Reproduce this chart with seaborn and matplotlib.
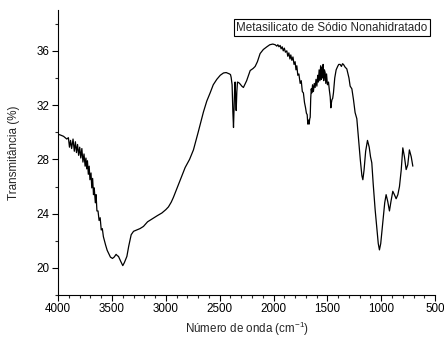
import matplotlib
matplotlib.use("Agg")
import matplotlib.pyplot as plt
import matplotlib.ticker as mticker
import numpy as np
import pandas as pd
import seaborn as sns

# FTIR spectrum of sodium metasilicate nonahydrate
wavenumber = [
    4000, 3980, 3950, 3920, 3905, 3895, 3885, 3875, 3862, 3850, 3840, 3830,
    3820, 3810, 3800, 3790, 3780, 3770, 3760, 3750, 3742, 3735, 3728, 3720,
    3712, 3705, 3695, 3688, 3680, 3672, 3665, 3655, 3648, 3640, 3630, 3620,
    3610, 3600, 3590, 3580, 3570, 3560, 3545, 3533, 3515, 3496, 3480, 3462,
    3450, 3440, 3420, 3400, 3385, 3362, 3345, 3322, 3300, 3270, 3240, 3208,
    3170, 3130, 3080, 3037, 3000, 2976, 2950, 2930, 2905, 2883, 2850, 2821,
    2780, 2744, 2700, 2651, 2620, 2589, 2560, 2527, 2495, 2465, 2440, 2410,
    2400, 2394, 2385, 2378, 2372, 2366, 2360, 2357, 2352, 2347, 2341, 2335,
    2322, 2310, 2295, 2280, 2250, 2217, 2190, 2171, 2150, 2125, 2095, 2062,
    2035, 2007, 1985, 1970, 1960, 1950, 1939, 1930, 1920, 1910, 1900, 1890,
    1877, 1868, 1858, 1848, 1840, 1830, 1820, 1810, 1800, 1792, 1784, 1775,
    1765, 1753, 1743, 1733, 1723, 1713, 1703, 1695, 1688, 1682, 1676, 1670,
    1664, 1660, 1655, 1650, 1645, 1638, 1630, 1622, 1614, 1606, 1598, 1590,
    1584, 1577, 1570, 1563, 1557, 1552, 1546, 1540, 1534, 1528, 1521, 1515,
    1508, 1500, 1490, 1482, 1474, 1468, 1465, 1458, 1451, 1444, 1432, 1419,
    1405, 1395, 1382, 1370, 1360, 1351, 1336, 1320, 1300, 1289, 1273, 1258,
    1243, 1227, 1212, 1195, 1180, 1171, 1160, 1145, 1128, 1112, 1100, 1088,
    1075, 1057, 1040, 1028, 1017, 1005, 993, 980, 968, 955, 940, 924,
    910, 893, 878, 862, 846, 831, 815, 800, 785, 769, 754, 739, 722, 707,
]
transmittance = [
    29.85, 29.8, 29.7, 29.5, 29.6, 28.9, 29.4, 28.8, 29.5, 28.6, 29.3, 28.5,
    29.1, 28.3, 28.9, 28.1, 28.8, 27.8, 28.4, 27.5, 28.1, 27.3, 27.9, 26.9,
    27.5, 26.5, 27.0, 25.9, 26.6, 25.4, 25.9, 24.8, 25.4, 24.2, 24.2, 23.5,
    23.7, 22.8, 22.9, 22.3, 22.0, 21.7, 21.3, 21.1, 20.8, 20.7, 20.8, 21.0,
    20.9, 20.85, 20.5, 20.17, 20.4, 20.85, 21.6, 22.45, 22.7, 22.8, 22.9, 23.06,
    23.4, 23.6, 23.85, 24.05, 24.3, 24.5, 24.85, 25.2, 25.7, 26.15, 26.8, 27.4,
    28.0, 28.7, 30.0, 31.5, 32.3, 32.9, 33.5, 33.9, 34.2, 34.37, 34.4, 34.3,
    34.25, 34.05, 33.5, 31.5, 30.35, 32.0, 33.6, 33.7, 32.5, 31.6, 33.0, 33.7,
    33.65, 33.55, 33.4, 33.3, 33.8, 34.55, 34.7, 34.85, 35.2, 35.8, 36.1, 36.3,
    36.45, 36.5, 36.45, 36.35, 36.45, 36.3, 36.4, 36.15, 36.3, 36.0, 36.2, 35.9,
    36.0, 35.6, 35.85, 35.4, 35.7, 35.3, 35.55, 35.0, 35.2, 34.6, 34.9, 34.2,
    34.3, 33.6, 33.8, 33.0, 32.9, 32.2, 31.8, 31.4, 31.3, 30.6, 30.9, 30.6,
    31.0, 31.1, 32.5, 33.2, 32.9, 33.5, 33.0, 33.6, 33.3, 33.9, 33.4, 34.2,
    33.7, 34.6, 33.8, 34.9, 33.9, 34.8, 34.0, 35.0, 33.8, 34.6, 34.4, 33.6,
    34.3, 33.5, 33.7, 33.1, 32.6, 31.8, 32.07, 32.4, 32.5, 32.9, 34.0, 34.6,
    34.85, 35.0, 35.0, 34.85, 35.05, 35.0, 34.8, 34.67, 34.0, 33.4, 33.2, 32.4,
    31.45, 31.0, 29.6, 28.0, 26.8, 26.5, 27.2, 28.6, 29.4, 28.9, 28.2, 27.75,
    26.2, 24.3, 22.8, 21.8, 21.33, 21.8, 22.8, 23.8, 24.8, 25.4, 24.9, 24.2,
    24.9, 25.65, 25.4, 25.1, 25.4, 26.0, 27.2, 28.85, 28.2, 27.25, 27.6, 28.7,
    28.2, 27.5,
]

spectrum = pd.DataFrame({"wavenumber": wavenumber, "transmittance": transmittance})

sns.set_style("ticks")
plt.rcParams["font.family"] = ["Liberation Sans", "DejaVu Sans"]
plt.rcParams["mathtext.default"] = "regular"

fig, ax = plt.subplots(figsize=(4.44, 3.38), dpi=100)
fig.subplots_adjust(left=0.131, right=0.98, bottom=0.127, top=0.97)

sns.lineplot(data=spectrum, x="wavenumber", y="transmittance", sort=False,
             estimator=None, color="black", linewidth=0.9, ax=ax)

ax.set_xlim(4000, 500)
ax.set_ylim(18, 39)
ax.xaxis.set_major_locator(mticker.MultipleLocator(500))
ax.xaxis.set_minor_locator(mticker.MultipleLocator(100))
ax.yaxis.set_major_locator(mticker.MultipleLocator(4))
ax.yaxis.set_minor_locator(mticker.MultipleLocator(2))
ax.tick_params(which="major", direction="out", length=4, width=0.8,
               labelsize=8.4, colors="black", pad=2)
ax.tick_params(which="minor", direction="out", length=2.5, width=0.8)

for side in ("top", "right"):
    ax.spines[side].set_visible(False)
for side in ("left", "bottom"):
    ax.spines[side].set_linewidth(0.8)
    ax.spines[side].set_color("black")

ax.set_xlabel("Número de onda (cm$^{-1}$)", fontsize=8.4, labelpad=3)
ax.set_ylabel("Transmitância (%)", fontsize=8.4, labelpad=12)

ax.text(0.98, 0.96, "Metasilicato de Sódio Nonahidratado",
        transform=ax.transAxes, ha="right", va="top", fontsize=8.4,
        bbox=dict(boxstyle="square,pad=0.2", facecolor="white",
                  edgecolor="black", linewidth=0.8))

fig.savefig("out.png", dpi=100)
